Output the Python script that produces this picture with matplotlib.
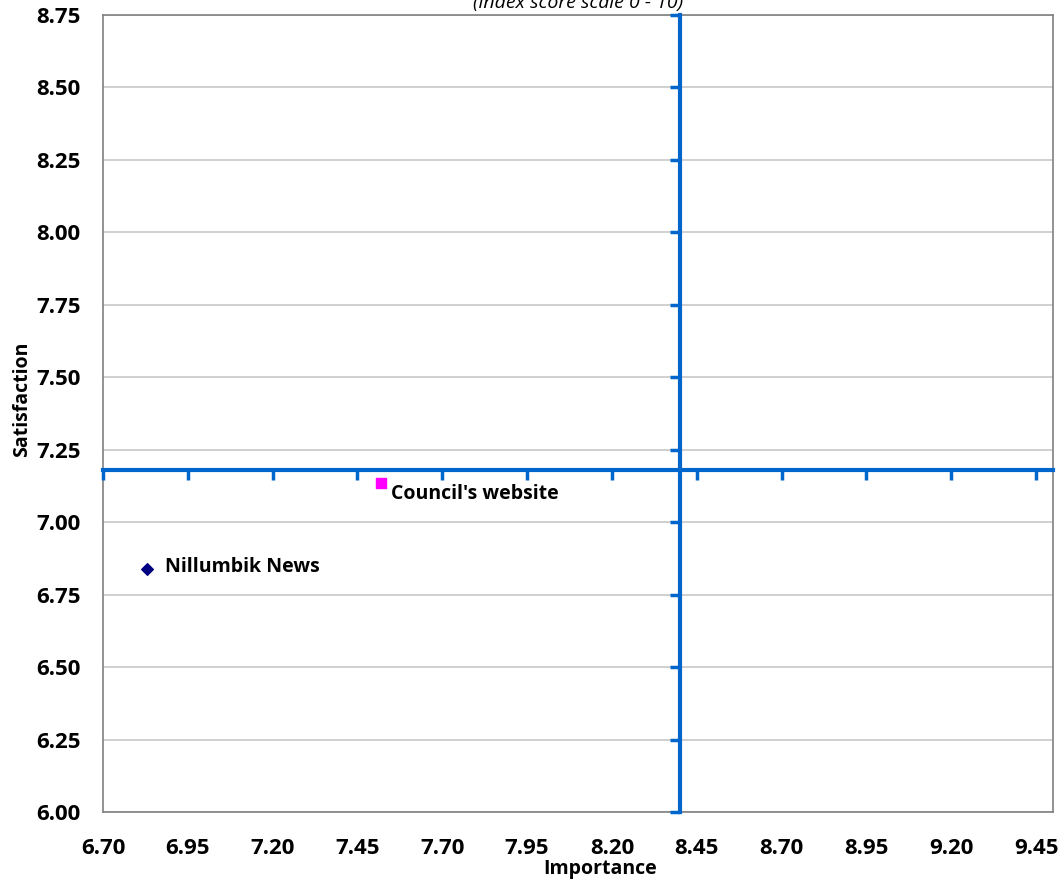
import numpy as np
import matplotlib
matplotlib.use('Agg')
import matplotlib.pyplot as plt

plt.rcParams['font.family'] = ['Open Sans', 'DejaVu Sans']

# data
names = ['Nillumbik News', "Council's website"]
importance = [6.83, 7.52]
satisfaction = [6.84, 7.135]
colors = ['#000080', '#FF00FF']
markers = ['D', 's']

# axis settings
x_min, x_max = 6.70, 9.50
y_min, y_max = 6.00, 8.75
x_ticks = np.arange(6.70, 9.46, 0.25)
y_ticks = np.arange(6.00, 8.76, 0.25)
x_cross = 8.40   # vertical quadrant line (average importance)
y_cross = 7.18   # horizontal quadrant line (average satisfaction)

fig = plt.figure(figsize=(10.64, 8.82), dpi=100)
ax = fig.add_axes([103/1064, 1 - 812/882, 950/1064, 797/882])

ax.set_xlim(x_min, x_max)
ax.set_ylim(y_min, y_max)
ax.set_xticks(x_ticks)
ax.set_yticks(y_ticks)
ax.set_xticklabels([f'{v:.2f}' for v in x_ticks])
ax.set_yticklabels([f'{v:.2f}' for v in y_ticks])
ax.tick_params(axis='both', length=0, labelsize=16)
ax.tick_params(axis='x', pad=19)
ax.tick_params(axis='y', pad=16)
for lbl in ax.get_xticklabels() + ax.get_yticklabels():
    lbl.set_fontweight('bold')

ax.grid(axis='y', color='#c8c8c8', linewidth=1.2)
ax.set_axisbelow(True)
for s in ax.spines.values():
    s.set_color('#808080')
    s.set_linewidth(1.2)

# quadrant lines with their own tick marks
blue = '#0066CC'
ax.axhline(y_cross, color=blue, linewidth=3, zorder=3, clip_on=False)
ax.axvline(x_cross, color=blue, linewidth=3, zorder=3, clip_on=False)
ax.plot(x_ticks, [y_cross] * len(x_ticks), linestyle='none', marker=3,
        markersize=7, markeredgewidth=2.5, color=blue, zorder=3, clip_on=False)
ax.plot([x_cross] * len(y_ticks), y_ticks, linestyle='none', marker=0,
        markersize=7, markeredgewidth=2.5, color=blue, zorder=3, clip_on=False)

# points
for n, xv, yv, c, m in zip(names, importance, satisfaction, colors, markers):
    ax.scatter(xv, yv, color=c, marker=m, s=60 if m == 's' else 35, zorder=4)

ax.annotate(names[0], (importance[0], satisfaction[0]), xytext=(13, 1),
            textcoords='offset points', fontsize=14, fontweight='bold',
            va='center', ha='left')
ax.annotate(names[1], (importance[1], satisfaction[1]), xytext=(7, -8),
            textcoords='offset points', fontsize=14, fontweight='bold',
            va='center', ha='left')

fig.text(600/1064, 1 - 869/882, 'Importance', ha='center', va='center',
         fontsize=14, fontweight='bold')
fig.text(22/1064, 1 - 399/882, 'Satisfaction', ha='center', va='center',
         rotation=90, fontsize=14, fontweight='bold')
fig.text(578/1064, 1 - 8/882, '(index score scale 0 - 10)', ha='center',
         va='baseline', fontsize=14, style='italic')

fig.savefig('out.png', dpi=100)
